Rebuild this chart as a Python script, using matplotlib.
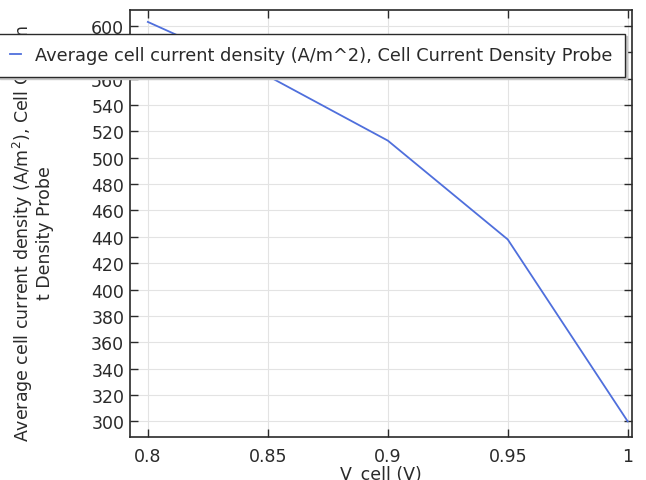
import matplotlib
matplotlib.use("Agg")
import matplotlib.pyplot as plt

plt.rcParams.update({
    "font.family": "DejaVu Sans",
    "font.size": 12.5,
})

v_cell = [0.80, 0.85, 0.90, 0.95, 1.00]
current_density = [603, 562, 513, 438, 300]
x_ticks = [0.8, 0.85, 0.9, 0.95, 1.0]
x_tick_labels = ["0.8", "0.85", "0.9", "0.95", "1"]
y_ticks = list(range(300, 601, 20))

LINE_BLUE = "#4f6fdc"
TEXT = "#2a2a2a"

fig = plt.figure(figsize=(6.46, 4.81), dpi=100)
ax = fig.add_axes([0.201, 0.089, 0.777, 0.888])

line, = ax.plot(v_cell, current_density, color=LINE_BLUE, lw=1.3)

ax.set_xlim(0.7925, 1.0017)
ax.set_ylim(288, 612)
ax.set_xticks(x_ticks)
ax.set_xticklabels(x_tick_labels)
ax.set_yticks(y_ticks)
ax.grid(True, color="#e3e3e3", lw=0.8)
ax.tick_params(direction="in", length=6, width=1, top=True, right=True,
               labelsize=12.5, colors=TEXT, pad=4)
ax.tick_params(axis="x", pad=7)
for s in ax.spines.values():
    s.set_linewidth(1.2)
    s.set_color(TEXT)

ax.set_xlabel("V_cell (V)", fontsize=12.5, labelpad=0, color=TEXT)
fig.text(0.05, 0.515,
         "Average cell current density (A/m$^2$), Cell Curren\nt Density Probe",
         rotation=90, ha="center", va="center", multialignment="center",
         fontsize=12.5, color=TEXT, linespacing=1.05)

leg = fig.legend([line], ["Average cell current density (A/m^2), Cell Current Density Probe"],
                 loc="upper left", bbox_to_anchor=(-0.004, 0.928),
                 fontsize=12.8, handlelength=0.6, handletextpad=0.8,
                 borderpad=0.7, borderaxespad=0, fancybox=False,
                 shadow={"color": "#c8c8c8", "alpha": 1}, framealpha=1,
                 edgecolor=TEXT)
leg.get_frame().set_linewidth(1.0)
for t in leg.get_texts():
    t.set_color(TEXT)

fig.savefig("out.png", dpi=100)
